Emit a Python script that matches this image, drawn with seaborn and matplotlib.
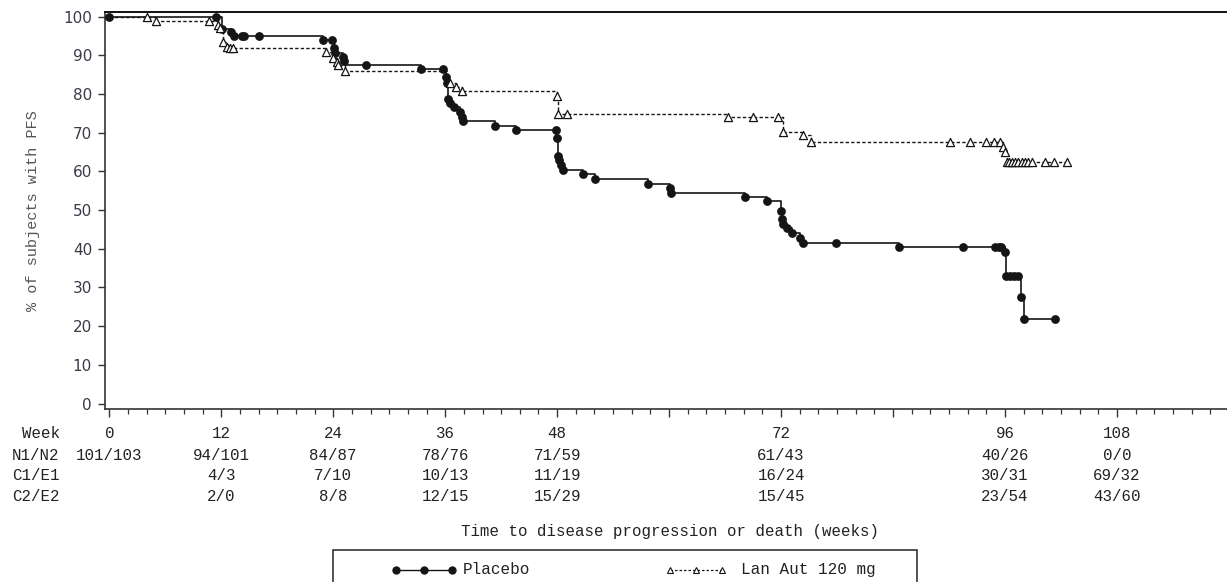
import numpy as np
import pandas as pd
import matplotlib
matplotlib.use("Agg")
import matplotlib.pyplot as plt
from matplotlib import transforms
from matplotlib.lines import Line2D
from matplotlib.patches import Rectangle
from matplotlib.ticker import MultipleLocator
import seaborn as sns

# Kaplan-Meier curves: week of each drop and % progression-free after it
placebo_step_weeks = [12.1, 13.0, 13.4, 22.9, 24.1, 24.2, 25.1, 25.2, 25.4,
                      33.4, 36.1, 36.2, 36.3, 36.5, 36.9, 37.6, 37.8, 37.9,
                      41.3, 43.6, 48.0, 48.1, 48.2, 48.4, 48.6, 50.8, 52.1,
                      57.7, 60.1, 60.2, 68.1, 70.5, 72.0, 72.1, 72.2, 72.6,
                      73.2, 74.0, 74.4, 84.6, 96.0, 96.1, 97.7, 98.0]
placebo_step_pfs = [96.7, 95.9, 95.1, 94.0, 91.8, 90.5, 89.5, 88.6, 87.5,
                    86.5, 84.3, 82.8, 78.7, 77.6, 76.6, 75.4, 74.1, 73.1,
                    71.7, 70.7, 68.6, 64.0, 62.9, 61.7, 60.4, 59.3, 58.0,
                    56.7, 55.6, 54.5, 53.5, 52.4, 49.8, 47.7, 46.4, 45.3,
                    44.0, 42.7, 41.6, 40.5, 39.1, 33.0, 27.5, 21.9]
placebo_end_week = 101.4
placebo_censor_weeks = [0.0, 11.4, 12.1, 13.0, 13.4, 14.2, 14.4, 16.1, 22.9,
                        23.9, 24.1, 24.2, 25.1, 25.2, 27.5, 33.4, 35.8, 36.1,
                        36.2, 36.3, 36.5, 36.9, 37.6, 37.8, 37.9, 41.3, 43.6,
                        47.9, 48.0, 48.1, 48.2, 48.4, 48.6, 50.8, 52.1, 57.7,
                        60.1, 60.2, 68.1, 70.5, 72.0, 72.1, 72.2, 72.6, 73.2,
                        74.0, 74.4, 77.9, 84.6, 91.5, 94.9, 95.3, 95.6, 96.0,
                        96.1, 96.5, 97.0, 97.4, 97.7, 98.0, 101.4]

lan_step_weeks = [5.0, 11.6, 11.9, 12.2, 12.6, 12.9, 23.2, 24.0, 24.4, 24.5,
                  25.3, 36.2, 37.2, 37.8, 47.95, 48.1, 66.3, 72.2, 74.3, 75.2,
                  95.8, 96.0, 96.2]
lan_step_pfs = [98.9, 97.8, 97.0, 93.5, 92.2, 91.8, 90.8, 89.2, 88.3, 87.5,
                86.0, 82.8, 81.7, 80.8, 79.6, 74.8, 74.0, 70.1, 69.4, 67.7,
                66.4, 65.1, 62.5]
lan_end_week = 102.6
lan_censor_weeks = [4.0, 5.0, 10.7, 11.6, 11.9, 12.2, 12.6, 12.9, 13.3, 23.2,
                    24.0, 24.4, 24.5, 25.3, 36.5, 37.2, 37.8, 47.95, 48.1,
                    49.1, 66.3, 69.0, 71.7, 72.2, 74.3, 75.2, 90.1, 92.2,
                    94.0, 94.8, 95.5, 95.8, 96.0, 96.2, 96.4, 96.7, 97.1,
                    97.4, 97.8, 98.1, 98.5, 98.9, 100.3, 101.2, 102.6]

# Numbers-at-risk table under the axis
table_weeks = [0, 12, 24, 36, 48, 72, 96, 108]
n1_n2 = ["101/103", "94/101", "84/87", "78/76", "71/59", "61/43", "40/26", "0/0"]
c1_e1 = ["", "4/3", "7/10", "10/13", "11/19", "16/24", "30/31", "69/32"]
c2_e2 = ["", "2/0", "8/8", "12/15", "15/29", "15/45", "23/54", "43/60"]
row_headers = ["Week", "N1/N2", "C1/E1", "C2/E2"]

series_names = ["Placebo", "Lan Aut 120 mg"]
x_title = "Time to disease progression or death (weeks)"
y_title = "% of subjects with PFS"


def km_frame(step_weeks, step_pfs, end_week):
    weeks = [0.0] + list(step_weeks) + [end_week]
    pfs = [100.0] + list(step_pfs) + [step_pfs[-1]]
    return pd.DataFrame({"week": weeks, "pfs": pfs})


def censor_frame(step_weeks, step_pfs, censor_weeks):
    idx = np.searchsorted(np.array(step_weeks), np.array(censor_weeks), side="right")
    levels = np.concatenate([[100.0], step_pfs])
    return pd.DataFrame({"week": censor_weeks, "pfs": levels[idx]})


sns.set_theme(style="ticks")
MONO = ["Liberation Mono", "DejaVu Sans Mono"]
plt.rcParams["font.family"] = ["DejaVu Sans"]

W, H = 1227, 582
fig = plt.figure(figsize=(W / 100, H / 100), dpi=100)
fig.patch.set_facecolor("white")


def fx(px):
    return px / W


def fy(py):
    return (H - py) / H


ax_left, ax_right, ax_top, ax_bottom = 104.5, 1229.0, 11.7, 409.0
ax = fig.add_axes([fx(ax_left), fy(ax_bottom), (ax_right - ax_left) / W,
                   (ax_bottom - ax_top) / H])
ax.set_facecolor("white")

ink = "#151515"
pl_df = km_frame(placebo_step_weeks, placebo_step_pfs, placebo_end_week)
lan_df = km_frame(lan_step_weeks, lan_step_pfs, lan_end_week)
pl_cens = censor_frame(placebo_step_weeks, placebo_step_pfs, placebo_censor_weeks)
lan_cens = censor_frame(lan_step_weeks, lan_step_pfs, lan_censor_weeks)

sns.lineplot(data=pl_df, x="week", y="pfs", ax=ax, estimator=None, sort=False,
             drawstyle="steps-post", color=ink, linewidth=1.2, legend=False)
sns.lineplot(data=lan_df, x="week", y="pfs", ax=ax, estimator=None, sort=False,
             drawstyle="steps-post", color=ink, linewidth=1.0,
             linestyle=(0, (2.4, 1.6)), legend=False)
sns.scatterplot(data=pl_cens, x="week", y="pfs", ax=ax, marker="o", s=40,
                color=ink, edgecolor=ink, linewidth=0, legend=False, zorder=3)
sns.scatterplot(data=lan_cens, x="week", y="pfs", ax=ax, marker="^", s=34,
                color="white", edgecolor=ink, linewidth=0.9, legend=False,
                zorder=3)

ax.set_xlim(-0.51, 120.0)
ax.set_ylim(-1.4, 101.27)
ax.set_xlabel("")
ax.set_ylabel("")

ax.yaxis.set_major_locator(MultipleLocator(10))
ax.xaxis.set_major_locator(MultipleLocator(12))
ax.xaxis.set_minor_locator(MultipleLocator(2))
ax.set_xticklabels([])
ax.tick_params(axis="y", direction="out", length=5, width=1.0, pad=4,
               labelsize=11, colors="#333333", labelcolor="#3a3a48")
ax.tick_params(axis="x", which="major", direction="out", length=6, width=1.0,
               colors="#333333")
ax.tick_params(axis="x", which="minor", direction="out", length=3.8, width=0.9,
               colors="#333333")

for side in ["left", "bottom"]:
    ax.spines[side].set_color("#333333")
    ax.spines[side].set_linewidth(1.2)
ax.spines["top"].set_color("#111111")
ax.spines["top"].set_linewidth(1.4)
ax.spines["right"].set_visible(False)

# At-risk table rows: week-aligned columns, headers right-aligned
row_y = [433.3, 455.0, 476.0, 496.7]
blend = transforms.blended_transform_factory(ax.transData, fig.transFigure)
rows = [[str(w) for w in table_weeks], n1_n2, c1_e1, c2_e2]
for header, values, py in zip(row_headers, rows, row_y):
    fig.text(fx(59.5), fy(py), header, ha="right", va="center",
             family=MONO, fontsize=11.3, color="#222222")
    for wk, val in zip(table_weeks, values):
        if val:
            ax.text(wk, fy(py), val, transform=blend, ha="center", va="center",
                    family=MONO, fontsize=11.3, color="#222222", clip_on=False)

fig.text(fx(670), fy(531.7), x_title, ha="center", va="center", family=MONO,
         fontsize=11.3, color="#222222")
fig.text(fx(33), fy((ax_top + ax_bottom) / 2), y_title, ha="center",
         va="center", rotation=90, family=MONO, fontsize=11, color="#555555")

# Legend frame running off the bottom edge
fig.patches.append(Rectangle((fx(333), -0.1), fx(917) - fx(333), fy(550) + 0.1,
                             transform=fig.transFigure, fill=False,
                             edgecolor="#222222", linewidth=1.1))
leg_y = fy(569.5)
fig.add_artist(Line2D([fx(396), fx(424), fx(452)], [leg_y] * 3,
                      transform=fig.transFigure, color=ink, linewidth=1.0,
                      marker="o", markersize=5))
fig.add_artist(Line2D([fx(670), fx(722)], [leg_y, leg_y], transform=fig.transFigure,
                      color=ink, linewidth=0.9, linestyle=(0, (2.0, 1.6))))
fig.add_artist(Line2D([fx(670), fx(696), fx(722)], [leg_y] * 3,
                      transform=fig.transFigure, linestyle="none", marker="^",
                      markersize=5, markerfacecolor="white",
                      markeredgecolor=ink, markeredgewidth=0.8))
fig.text(fx(463), leg_y, series_names[0], ha="left", va="center", family=MONO,
         fontsize=11.5, color="#222222")
fig.text(fx(741), leg_y, series_names[1], ha="left", va="center", family=MONO,
         fontsize=11.5, color="#222222")

fig.savefig("out.png", dpi=100, facecolor="white")
